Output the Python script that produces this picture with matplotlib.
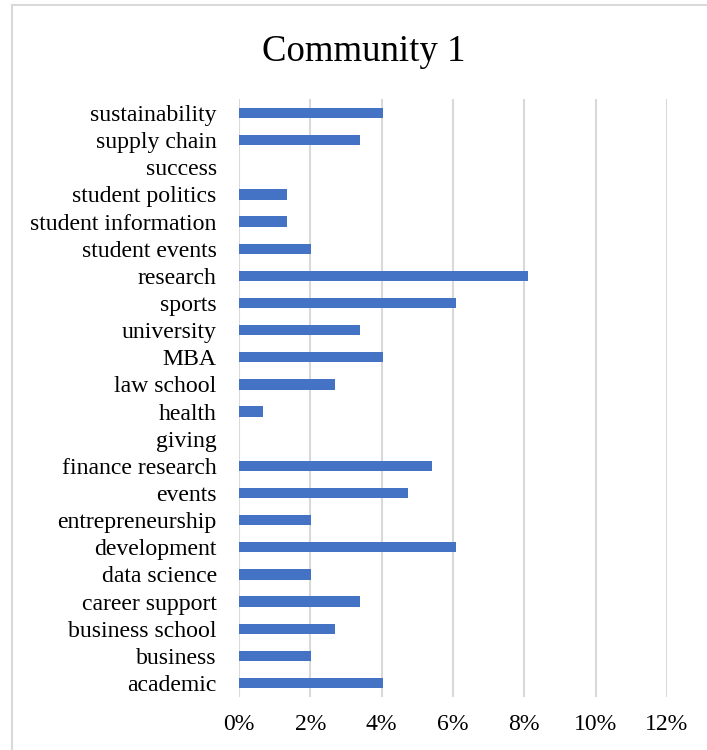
import matplotlib
matplotlib.use("Agg")
import matplotlib.pyplot as plt
from matplotlib.lines import Line2D
from matplotlib.ticker import FuncFormatter

# categorias (de abajo hacia arriba) y porcentaje de cada una
categorias = ["academic", "business", "business school", "career support",
              "data science", "development", "entrepreneurship", "events",
              "finance research", "giving", "health", "law school", "MBA",
              "university", "sports", "research", "student events",
              "student information", "student politics", "success",
              "supply chain", "sustainability"]
porcentajes = [4.05, 2.03, 2.70, 3.38, 2.03, 6.08, 2.03, 4.73, 5.41, 0.0,
               0.68, 2.70, 4.05, 3.38, 6.08, 8.11, 2.03, 1.35, 1.35, 0.0,
               3.38, 4.05]
ticks_x = [0, 2, 4, 6, 8, 10, 12]

plt.rcParams["font.family"] = ["Liberation Serif", "DejaVu Serif"]

fig = plt.figure(figsize=(7.07, 7.5), dpi=100)
ax = fig.add_axes([0.338, 0.0712, 0.6054, 0.7963])

pos = list(range(len(categorias)))
ax.barh(pos, porcentajes, height=0.38, color="#4472C4", zorder=3)

ax.set_xlim(0, 12)
ax.set_ylim(-0.5, len(categorias) - 0.5)
ax.set_xticks(ticks_x)
ax.xaxis.set_major_formatter(FuncFormatter(lambda v, _: f"{v:.0f}%"))
ax.set_yticks(pos)
ax.set_yticklabels(categorias)
ax.tick_params(axis="both", length=0, labelsize=17.1)
ax.tick_params(axis="y", pad=16)
ax.tick_params(axis="x", pad=12.5)
ax.grid(axis="x", color="#d9d9d9", linewidth=1.5, zorder=0)
for s in ax.spines.values():
    s.set_visible(False)

fig.text(0.515, 0.931, "Community 1", ha="center", va="center", fontsize=26.5)

# marco del area del grafico
fig.add_artist(Line2D([11.5 / 707, 11.5 / 707], [0, 1 - 4.5 / 750],
                      color="#d9d9d9", linewidth=1.5))
fig.add_artist(Line2D([11.5 / 707, 706 / 707], [1 - 4.5 / 750, 1 - 4.5 / 750],
                      color="#d9d9d9", linewidth=1.5))

plt.savefig("out.png", dpi=100)
